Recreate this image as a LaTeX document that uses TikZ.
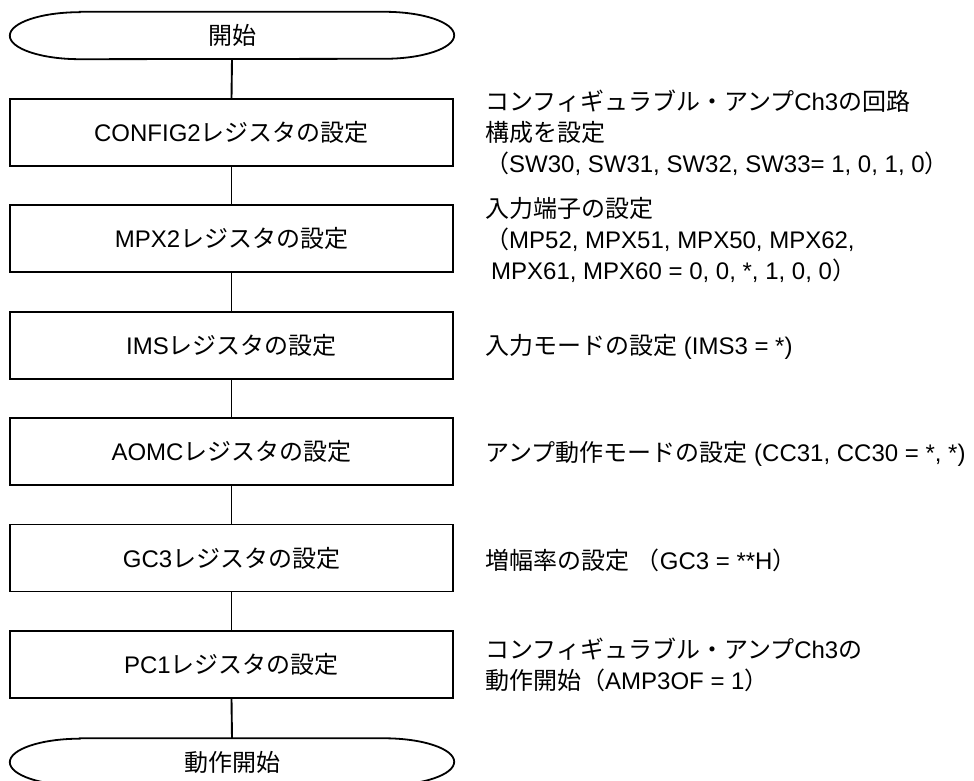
\documentclass[tikz,border=0pt]{standalone}
\usepackage{fontspec}
\setmainfont{Liberation Sans}
\newfontfamily\jp{Noto Sans CJK JP}
\newcommand\J[1]{{\jp #1}}
\begin{document}
\begin{tikzpicture}[x=1pt,y=1pt,
  txt/.style={font=\fontsize{24}{31}\selectfont},
  box/.style={txt, draw, line width=1.8pt, minimum width=443pt, minimum height=67pt, inner sep=0pt},
  term/.style={txt, minimum width=444pt, minimum height=47pt, inner sep=0pt},
  termline/.style={line width=1.8pt},
  note/.style={txt, anchor=west, align=left, inner sep=0pt},
  link/.style={line width=1.9pt}]
\useasboundingbox (0,0) rectangle (974,781);
\fill[white] (0,0) rectangle (974,781);
% terminals
\node[term] (start) at (232,745.5) {\J{開始}};
\draw[termline] ([xshift=70pt]start.north west) -- ([xshift=-70pt]start.north east)
  arc[start angle=90,end angle=-90,x radius=70pt,y radius=23.5pt]
  -- ([xshift=70pt]start.south west)
  arc[start angle=270,end angle=90,x radius=70pt,y radius=23.5pt] -- cycle;
\node[term] (stop) at (232,19) {\J{動作開始}};
\draw[termline] ([xshift=70pt]stop.north west) -- ([xshift=-70pt]stop.north east)
  arc[start angle=90,end angle=-90,x radius=70pt,y radius=23.5pt]
  -- ([xshift=70pt]stop.south west)
  arc[start angle=270,end angle=90,x radius=70pt,y radius=23.5pt] -- cycle;
% boxes
\node[box] (b1) at (231.5,648.5) {CONFIG2\J{レジスタの設定}};
\node[box] (b2) at (231.5,542.1) {MPX2\J{レジスタの設定}};
\node[box] (b3) at (231.5,435.7) {IMS\J{レジスタの設定}};
\node[box] (b4) at (231.5,329.3) {AOMC\J{レジスタの設定}};
\node[box] (b5) at (231.5,222.9) {GC3\J{レジスタの設定}};
\node[box] (b6) at (231.5,116.5) {PC1\J{レジスタの設定}};
% connectors
\draw[link] (start.south) -- (b1.north);
\draw[link] (b1.south) -- (b2.north);
\draw[link] (b2.south) -- (b3.north);
\draw[link] (b3.south) -- (b4.north);
\draw[link] (b4.south) -- (b5.north);
\draw[link] (b5.south) -- (b6.north);
\draw[link] (b6.south) -- (stop.north);
% notes
\node[note] (n1) at (485,648.5) {\J{コンフィギュラブル・アンプ}Ch3\J{の回路}\\\J{構成を設定}\\\J{（}SW30, SW31, SW32, SW33= 1, 0, 1, 0\J{）}};
\node[note] (n2) at (485,541) {\J{入力端子の設定}\\\J{（}MP52, MPX51, MPX50, MPX62,\\\hspace*{6pt}MPX61, MPX60 = 0, 0, *, 1, 0, 0\J{）}};
\node[note] (n3) at (485,434) {\J{入力モードの設定} (IMS3 = *)};
\node[note] (n4) at (485,327) {\J{アンプ動作モードの設定} (CC31, CC30 = *, *)};
\node[note] (n5) at (485,221) {\J{増幅率の設定} \J{（}GC3 = **H\J{）}};
\node[note] (n6) at (485,116) {\J{コンフィギュラブル・アンプ}Ch3\J{の}\\\J{動作開始（}AMP3OF = 1\J{）}};
\end{tikzpicture}
\end{document}
